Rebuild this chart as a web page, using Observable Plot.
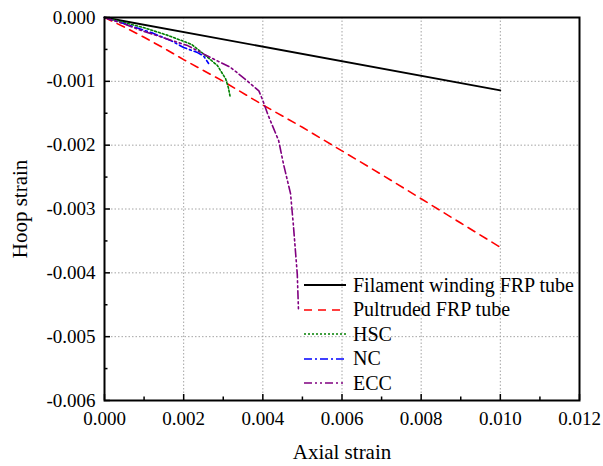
<!DOCTYPE html>
<html><head><meta charset="utf-8">
<script src="https://cdn.jsdelivr.net/npm/d3@7"></script>
<script src="https://cdn.jsdelivr.net/npm/@observablehq/plot@0.6"></script>
<style>
body{margin:0;background:#fff;}
#wrap{position:relative;width:603px;height:466px;font-family:"Liberation Serif","Times New Roman",serif;}
#legend{position:absolute;left:303px;top:273px;font-size:20px;color:#000;}
.row{display:flex;align-items:center;height:24.5px;white-space:nowrap;}
.row svg{margin-right:6px;}
</style></head>
<body><div id="wrap"><div id="legend"></div></div>
<script>
const xTicks=[0,0.002,0.004,0.006,0.008,0.010,0.012];
const xMinor=[0.001,0.003,0.005,0.007,0.009,0.011];
const yTicks=[0,-0.001,-0.002,-0.003,-0.004,-0.005,-0.006];
const yMinor=[-0.0005,-0.0015,-0.0025,-0.0035,-0.0045,-0.0055];

const seriesNames=["Filament winding FRP tube","Pultruded FRP tube","HSC","NC","ECC"];

const filamentX=[0,0.010];
const filamentY=[0,-0.00114];

const pultrudedX=[0,0.0005,0.001,0.0015,0.002,0.0025,0.003,0.004,0.005,0.006,0.007,0.008,0.009,0.010];
const pultrudedY=[0,-0.00015,-0.00031,-0.00048,-0.00066,-0.00083,-0.0010,-0.00137,-0.00172,-0.00209,-0.00246,-0.00284,-0.00322,-0.0036];

const hscX=[0,0.0005,0.001,0.0016,0.0022,0.0025,0.00285,0.00306,0.00313,0.00318];
const hscY=[0,-0.00008,-0.00016,-0.00028,-0.00042,-0.00057,-0.00075,-0.00096,-0.0011,-0.00126];

const ncX=[0,0.00066,0.0012,0.00167,0.002,0.00235,0.0025,0.00263];
const ncY=[0,-0.00013,-0.00024,-0.00036,-0.00047,-0.00055,-0.0006,-0.00072];

const eccX=[0,0.0005,0.00091,0.00116,0.0021,0.0025,0.00285,0.00318,0.0036,0.0039,0.004,0.00412,0.0044,0.00452,0.0047,0.00477,0.00487,0.0049];
const eccY=[0,-0.0001,-0.0002,-0.00025,-0.00044,-0.00057,-0.00068,-0.00078,-0.00099,-0.00115,-0.0013,-0.00151,-0.00193,-0.00229,-0.00276,-0.00324,-0.00402,-0.00457];

const styles=[
  {stroke:"#000000",dash:null,width:1.8},
  {stroke:"#ff0000",dash:"8,6",width:1.6},
  {stroke:"#008000",dash:"2,2",width:1.6},
  {stroke:"#0000ff",dash:"8,3,2,3",width:1.6},
  {stroke:"#800080",dash:"8,3,2,3,2,3",width:1.6}
];
const seriesXY=[[filamentX,filamentY],[pultrudedX,pultrudedY],[hscX,hscY],[ncX,ncY],[eccX,eccY]];
const tables=seriesXY.map(([xs,ys])=>xs.map((x,i)=>({x,y:ys[i]})));

const fmt=d=>d.toFixed(3);
const FONT='"Liberation Serif","Times New Roman",serif';

const chart=Plot.plot({
  width:603,height:466,
  marginLeft:104,marginRight:24,marginTop:17,marginBottom:66,
  style:{fontFamily:FONT,background:"#fff",color:"#000"},
  x:{domain:[0,0.012]},
  y:{domain:[-0.006,0]},
  marks:[
    Plot.gridX(xTicks.slice(1,-1),{stroke:"#9a9a9a",strokeOpacity:1,strokeWidth:0.9,strokeDasharray:"1.5,2"}),
    Plot.gridY(yTicks.slice(1,-1),{stroke:"#9a9a9a",strokeOpacity:1,strokeWidth:0.9,strokeDasharray:"1.5,2"}),
    ...tables.map((t,i)=>Plot.line(t,{x:"x",y:"y",stroke:styles[i].stroke,strokeWidth:styles[i].width,strokeDasharray:styles[i].dash})),
    Plot.axisX(xTicks,{tickSize:0,tickPadding:11,tickFormat:fmt,fontSize:19,label:"Axial strain",labelAnchor:"center",labelArrow:false,labelOffset:58}),
    Plot.axisX(xTicks,{tickSize:-6,text:null,label:null,strokeWidth:1.5}),
    Plot.axisX(xMinor,{tickSize:-3.5,text:null,label:null,strokeWidth:1.5}),
    Plot.axisY(yTicks,{tickSize:0,tickPadding:9,tickFormat:fmt,fontSize:19,label:"Hoop strain",labelAnchor:"center",labelArrow:false,labelOffset:92}),
    Plot.axisY(yTicks,{tickSize:-6,text:null,label:null,strokeWidth:1.5}),
    Plot.axisY(yMinor,{tickSize:-3.5,text:null,label:null,strokeWidth:1.5}),
    Plot.frame({stroke:"#000",strokeWidth:2})
  ]
});
chart.querySelectorAll("g[aria-label$='axis label']").forEach(el=>el.setAttribute("font-size","21"));
document.getElementById("wrap").prepend(chart);

const legend=document.getElementById("legend");
seriesNames.forEach((name,i)=>{
  const s=styles[i];
  const row=document.createElement("div");
  row.className="row";
  row.innerHTML=`<svg width="44" height="10"><line x1="1" y1="5" x2="43" y2="5" stroke="${s.stroke}" stroke-width="${s.width}" ${s.dash?`stroke-dasharray="${s.dash}"`:""}/></svg><span>${name}</span>`;
  legend.appendChild(row);
});
</script>
</body></html>
